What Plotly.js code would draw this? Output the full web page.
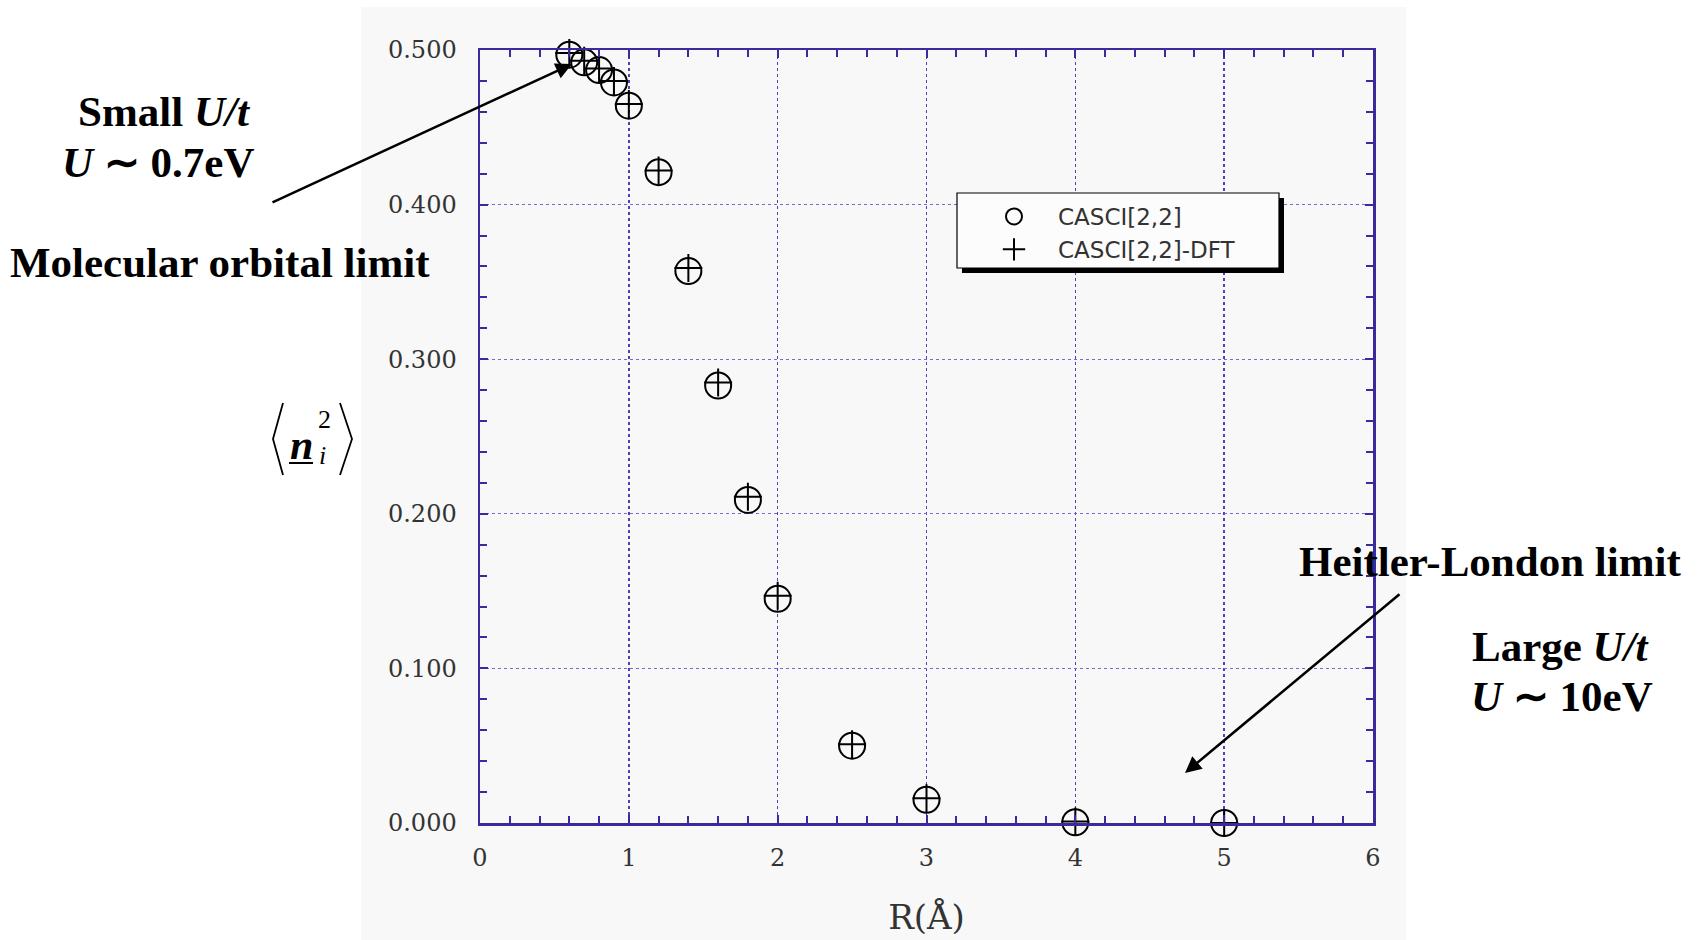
<!DOCTYPE html>
<html><head><meta charset="utf-8">
<script src="https://cdn.plot.ly/plotly-3.0.1.min.js"></script>
<style>html,body{margin:0;padding:0;background:#fff;} #chart{width:1698px;height:940px;}</style>
</head><body><div id="chart"></div>
<script>
// ---- data ----
const R = [0.6, 0.7, 0.8, 0.9, 1.0, 1.2, 1.4, 1.6, 1.8, 2.0, 2.5, 3.0, 4.0, 5.0];
const casci = [0.497, 0.492, 0.487, 0.479, 0.464, 0.421, 0.357, 0.283, 0.209, 0.145, 0.050, 0.015, 0.0005, 0.0];
const casciDft = [0.498, 0.493, 0.488, 0.480, 0.465, 0.422, 0.359, 0.285, 0.211, 0.147, 0.051, 0.016, 0.001, 0.0];
const seriesNames = ['CASCI[2,2]', 'CASCI[2,2]-DFT'];
const xTickVals = [0, 1, 2, 3, 4, 5, 6];
const xTickText = ['0', '1', '2', '3', '4', '5', '6'];
const yTickVals = [0, 0.1, 0.2, 0.3, 0.4, 0.5];
const yTickText = ['0.000', '0.100', '0.200', '0.300', '0.400', '0.500'];
const xTitle = 'R(Å)';
const notes = {
  smallA: 'Small <i>U/t</i>',
  smallB: '<i>U</i> ∼ 0.7eV',
  mo: 'Molecular orbital limit',
  hl: 'Heitler-London limit',
  largeA: 'Large <i>U/t</i>',
  largeB: '<i>U</i> ∼ 10eV'
};

// ---- layout helpers (pixel -> paper) ----
const W = 1698, H = 940, PL = 480, PR = 1373, PT = 50, PB = 823;
const fx = x => (x - PL) / (PR - PL);
const fy = y => (PB - y) / (PB - PT);

const axisColor = '#3a2a9c';
const tickFont = {family: 'DejaVu Serif, serif', size: 24, color: '#333'};
const noteFont = {family: 'Liberation Serif, Times New Roman, serif', size: 43, color: '#000', weight: 'bold'};

const traces = [
  {x: R, y: casci, name: seriesNames[0], type: 'scatter', mode: 'markers', cliponaxis: false,
   marker: {symbol: 'circle-open', size: 26, color: '#000', line: {width: 2, color: '#000'}}},
  {x: R, y: casciDft, name: seriesNames[1], type: 'scatter', mode: 'markers', cliponaxis: false,
   marker: {symbol: 'cross-thin-open', size: 20, color: '#000', line: {width: 2, color: '#000'}}}
];

function note(text, x, y, extra) {
  return Object.assign({text: text, xref: 'paper', yref: 'paper', x: fx(x), y: fy(y),
    xanchor: 'center', yanchor: 'middle', showarrow: false, font: noteFont}, extra || {});
}
function arrow(tipX, tipY, tailX, tailY) {
  return {text: '', xref: 'paper', yref: 'paper', x: fx(tipX), y: fy(tipY),
    ax: tailX - tipX, ay: tailY - tipY, axref: 'pixel', ayref: 'pixel',
    showarrow: true, arrowhead: 2, arrowsize: 1.3, arrowwidth: 2.5, arrowcolor: '#000', standoff: 0};
}

const layout = {
  width: W, height: H,
  margin: {l: PL, r: W - PR, t: PT, b: H - PB},
  paper_bgcolor: '#ffffff', plot_bgcolor: '#f8f8f8',
  showlegend: true,
  legend: {x: fx(970), y: fy(195), xanchor: 'left', yanchor: 'top', bgcolor: 'rgba(0,0,0,0)', borderwidth: 0,
    font: {family: 'DejaVu Sans, sans-serif', size: 23, color: '#333'}, itemwidth: 78, tracegroupgap: 0},
  xaxis: {range: [0, 6], tickvals: xTickVals, ticktext: xTickText, showline: true, linecolor: axisColor, linewidth: 2.5,
    mirror: 'ticks', ticks: 'inside', ticklen: 8, tickwidth: 2, tickcolor: axisColor,
    showgrid: true, gridcolor: '#4e3eb8', griddash: 'dot', gridwidth: 1.5, zeroline: false,
    minor: {dtick: 0.2, ticks: 'inside', ticklen: 7, tickwidth: 2, tickcolor: axisColor, showgrid: false},
    tickfont: tickFont, ticklabelstandoff: 12,
    title: {text: xTitle, font: {family: 'DejaVu Serif, serif', size: 34, color: '#333'}, standoff: 34}},
  yaxis: {range: [0, 0.5], tickvals: yTickVals, ticktext: yTickText, showline: true, linecolor: axisColor, linewidth: 2.5,
    mirror: 'ticks', ticks: 'inside', ticklen: 8, tickwidth: 2, tickcolor: axisColor,
    showgrid: true, gridcolor: '#7a6ad0', griddash: 'dot', gridwidth: 1.2, zeroline: false,
    minor: {dtick: 0.02, ticks: 'inside', ticklen: 7, tickwidth: 2, tickcolor: axisColor, showgrid: false},
    tickfont: tickFont, ticklabelstandoff: 16},
  shapes: [
    // grey panel behind the plot
    {type: 'rect', xref: 'paper', yref: 'paper', x0: fx(361), x1: fx(1406), y0: fy(7), y1: fy(940),
     fillcolor: '#f8f8f8', line: {width: 0}, layer: 'below'},
    // legend shadow and box
    {type: 'rect', xref: 'paper', yref: 'paper', x0: fx(962), x1: fx(1284), y0: fy(198), y1: fy(273),
     fillcolor: '#000', line: {width: 0}, layer: 'above'},
    {type: 'rect', xref: 'paper', yref: 'paper', x0: fx(957), x1: fx(1279), y0: fy(193), y1: fy(268),
     fillcolor: '#fcfcfc', line: {width: 1.2, color: '#000'}, layer: 'above'},
    // y-axis title angle brackets and underline
    {type: 'path', xref: 'paper', yref: 'paper',
     path: `M ${fx(283)} ${fy(403)} L ${fx(273)} ${fy(439)} L ${fx(283)} ${fy(475)}`,
     line: {width: 1.8, color: '#000'}},
    {type: 'path', xref: 'paper', yref: 'paper',
     path: `M ${fx(340)} ${fy(403)} L ${fx(352)} ${fy(439)} L ${fx(340)} ${fy(475)}`,
     line: {width: 1.8, color: '#000'}},
    {type: 'line', xref: 'paper', yref: 'paper', x0: fx(289), x1: fx(313), y0: fy(463), y1: fy(463),
     line: {width: 2, color: '#000'}}
  ],
  annotations: [
    note(notes.smallA, 164, 111),
    note(notes.smallB, 158, 162),
    note(notes.mo, 220, 262),
    note(notes.hl, 1490, 561),
    note(notes.largeA, 1561, 646),
    note(notes.largeB, 1562, 696),
    arrow(572, 64, 271, 203),
    arrow(1185, 773, 1401, 593),
    // y-axis title parts
    {text: '<b><i>n</i></b>', xref: 'paper', yref: 'paper', x: fx(301), y: fy(445), xanchor: 'center', yanchor: 'middle',
     showarrow: false, font: {family: 'Liberation Serif, serif', size: 42, color: '#000'}},
    {text: '2', xref: 'paper', yref: 'paper', x: fx(324), y: fy(419), xanchor: 'center', yanchor: 'middle',
     showarrow: false, font: {family: 'Liberation Serif, serif', size: 26, color: '#000'}},
    {text: '<i>i</i>', xref: 'paper', yref: 'paper', x: fx(322), y: fy(455), xanchor: 'center', yanchor: 'middle',
     showarrow: false, font: {family: 'Liberation Serif, serif', size: 26, color: '#000'}}
  ]
};

Plotly.newPlot('chart', traces, layout, {displayModeBar: false, staticPlot: true});
</script>
</body></html>
